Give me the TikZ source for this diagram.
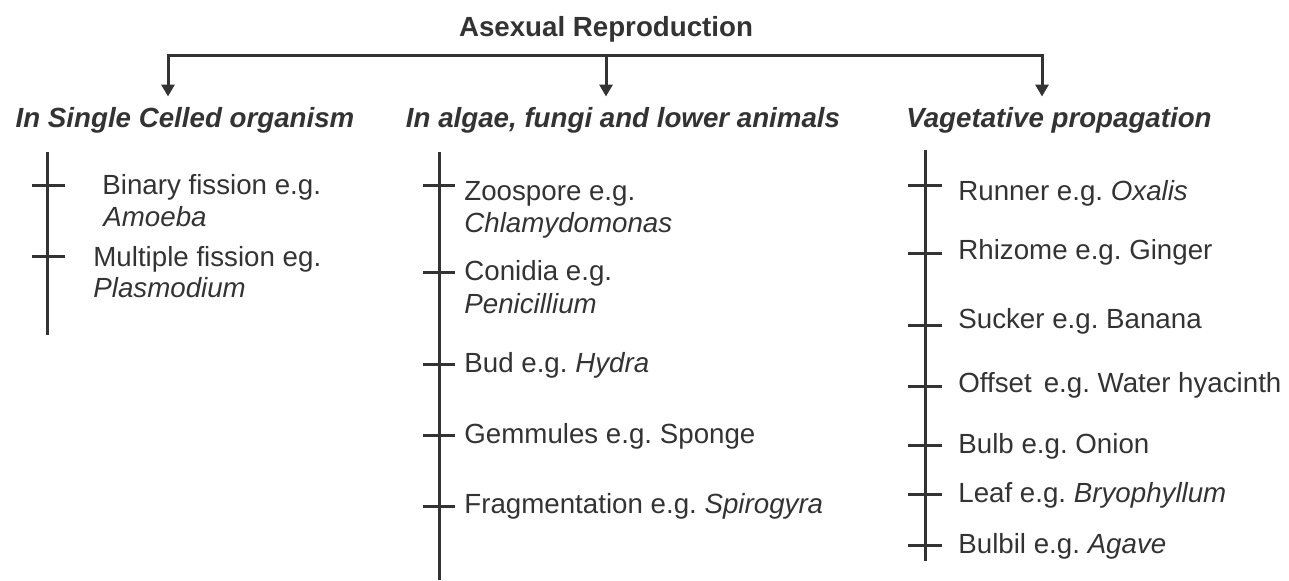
\documentclass[tikz,border=0pt]{standalone}
\usepackage{fontspec}
\setmainfont{Liberation Sans}
\usepackage{xcolor}
\usepackage{tikz}
\usetikzlibrary{arrows.meta, positioning}
\definecolor{inkgray}{RGB}{51, 51, 51}
\frenchspacing

\begin{document}
\begin{tikzpicture}[
    x=0.5pt, y=-0.5pt,
    title/.style={font=\fontsize{13.85}{16}\selectfont\bfseries, text=inkgray, anchor=base, inner sep=0pt},
    heading/.style={font=\fontsize{13.85}{16}\selectfont\bfseries\itshape, text=inkgray, anchor=base, inner sep=5pt},
    item/.style={font=\fontsize{13.85}{16}\selectfont, text=inkgray, anchor=base west, inner sep=0pt},
    spine/.style={draw=inkgray, line width=1.5pt},
    arrow/.style={-{Triangle[length=6pt, width=6.5pt]}, draw=inkgray, line width=1.5pt}
]
\useasboundingbox (0,0) rectangle (1289,580);

% Title
\node[title] (title) at (606,36) {Asexual Reproduction};
\coordinate (bar) at (606,55);

% Headings
\node[heading] (hsingle) at (185,127) {In Single Celled organism};
\node[heading] (halgae) at (623,127) {In algae, fungi and lower animals};
\node[heading] (hveg) at (1059,127) {Vagetative propagation};

% Arrows from the title bar
\draw[arrow] (bar) -| ([xshift=-8.5pt]hsingle.north);
\draw[arrow] (bar) -- ([xshift=-8.5pt]halgae.north);
\draw[arrow] (bar) -| ([xshift=-8.5pt]hveg.north);

% Single celled organisms
\coordinate (s0) at (47,152);
\coordinate (s1) at (47,335);
\draw[spine] (s0) -- (s1);
\draw[spine] (32,185) -- ++(33,0);
\draw[spine] (32,256) -- ++(33,0);
\node[item] (s11) at (102,194) {Binary fission e.g.};
\node[item] (s12) at (103,226) {\itshape Amoeba};
\node[item] (s21) at (93,266) {Multiple fission eg.};
\node[item] (s22) at (93,297) {\itshape Plasmodium};

% Algae, fungi and lower animals
\coordinate (a0) at (439,152);
\coordinate (a1) at (439,580);
\draw[spine] (a0) -- (a1);
\draw[spine] (423,185) -- ++(32,0);
\draw[spine] (423,272) -- ++(32,0);
\draw[spine] (423,364) -- ++(32,0);
\draw[spine] (423,435) -- ++(32,0);
\draw[spine] (423,506) -- ++(32,0);
\node[item] (a11) at (464,200) {Zoospore e.g.};
\node[item] (a12) at (464,232) {\itshape Chlamydomonas};
\node[item] (a21) at (464,280) {Conidia e.g.};
\node[item] (a22) at (464,313) {\itshape Penicillium};
\node[item] (a3) at (464,372) {Bud e.g. \textit{Hydra}};
\node[item] (a4) at (464,443) {Gemmules e.g. Sponge};
\node[item] (a5) at (464,513) {Fragmentation e.g. \textit{Spirogyra}};

% Vegetative propagation
\coordinate (v0) at (925,150);
\coordinate (v1) at (925,561);
\draw[spine] (v0) -- (v1);
\draw[spine] (908,185) -- ++(34,0);
\draw[spine] (908,253) -- ++(34,0);
\draw[spine] (908,325) -- ++(34,0);
\draw[spine] (908,386) -- ++(34,0);
\draw[spine] (908,445) -- ++(34,0);
\draw[spine] (908,494) -- ++(34,0);
\draw[spine] (908,545) -- ++(34,0);
\node[item] (v1t) at (958,200) {Runner e.g. \textit{Oxalis}};
\node[item] (v2t) at (958,259) {Rhizome e.g. Ginger};
\node[item] (v3t) at (958,328) {Sucker e.g. Banana};
\node[item] (v4t) at (958,392) {Offset\hspace{6pt}e.g. Water hyacinth};
\node[item] (v5t) at (958,453) {Bulb e.g. Onion};
\node[item] (v6t) at (958,502) {Leaf e.g. \textit{Bryophyllum}};
\node[item] (v7t) at (958,553) {Bulbil e.g. \textit{Agave}};
\end{tikzpicture}
\end{document}
